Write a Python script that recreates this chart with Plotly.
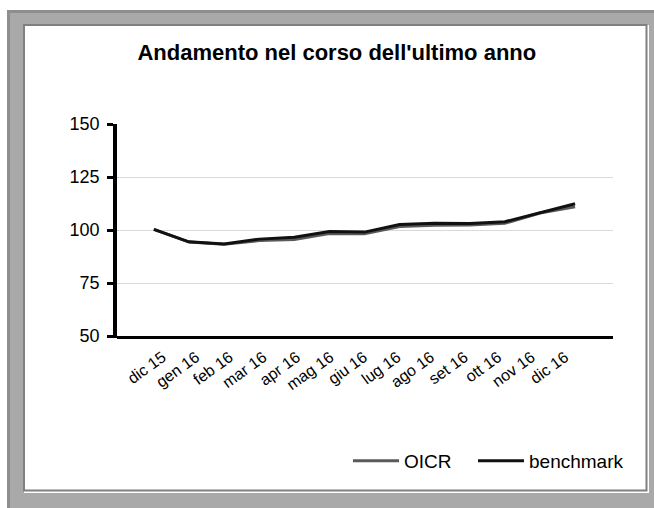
import plotly.graph_objects as go

# monthly labels and index values (base 100 = dic 15)
months = ["dic 15", "gen 16", "feb 16", "mar 16", "apr 16", "mag 16", "giu 16",
          "lug 16", "ago 16", "set 16", "ott 16", "nov 16", "dic 16"]
oicr = [100.3, 94.3, 93.3, 95.0, 95.5, 98.3, 98.2, 101.6, 102.2, 102.3, 103.2, 108.0, 111.0]
benchmark = [100.3, 94.4, 93.4, 95.7, 96.6, 99.3, 99.0, 102.6, 103.2, 103.1, 103.9, 108.3, 112.4]
y_ticks = [50, 75, 100, 125, 150]

W, H = 654, 508
L, R, T, B = 117, 613, 124, 336  # plot area in pixels


def px(x):
    return (x - L) / (R - L)


def py(y):
    return (B - y) / (B - T)


fig = go.Figure()
fig.add_trace(go.Scatter(x=months, y=oicr, name="OICR", mode="lines",
                         line=dict(color="#5a5a5a", width=3), legend="legend"))
fig.add_trace(go.Scatter(x=months, y=benchmark, name="benchmark", mode="lines",
                         line=dict(color="#111111", width=3), legend="legend2"))
# invisible copy carrying the month labels (Excel spaces them a bit tighter)
fig.add_trace(go.Scatter(x=months, y=benchmark, xaxis="x2", mode="lines", opacity=0,
                         showlegend=False, hoverinfo="skip"))

shapes = [
    # grey outer frame
    dict(type="rect", xref="paper", yref="paper", x0=px(7), x1=px(W + 2), y0=py(10), y1=py(H + 2),
         fillcolor="#a9a9a9", line=dict(width=0), layer="below"),
    dict(type="rect", xref="paper", yref="paper", x0=px(7), x1=px(W + 2), y0=py(10), y1=py(13),
         fillcolor="#8e8e8e", line=dict(width=0), layer="below"),
    dict(type="rect", xref="paper", yref="paper", x0=px(7), x1=px(10), y0=py(10), y1=py(H + 2),
         fillcolor="#8e8e8e", line=dict(width=0), layer="below"),
    # white highlight + inner panel
    dict(type="rect", xref="paper", yref="paper", x0=px(24), x1=px(649), y0=py(25), y1=py(493),
         fillcolor="white", line=dict(width=0), layer="below"),
    dict(type="rect", xref="paper", yref="paper", x0=px(24), x1=px(646.5), y0=py(25), y1=py(490.5),
         fillcolor="white", line=dict(color="#808080", width=2), layer="below"),
    # second thin line under the x axis
    dict(type="line", xref="paper", yref="paper", x0=px(L), x1=px(R), y0=py(B + 2.5), y1=py(B + 2.5),
         line=dict(color="black", width=1)),
]

leg = dict(orientation="h", xanchor="left", y=py(461), yanchor="middle",
           bgcolor="rgba(0,0,0,0)", font=dict(size=19), itemwidth=46)

fig.update_layout(
    width=W, height=H,
    margin=dict(l=L, r=W - R, t=T, b=H - B),
    paper_bgcolor="white", plot_bgcolor="white",
    font=dict(family="Liberation Sans, Arial, sans-serif", size=18, color="black"),
    title=dict(text="<b>Andamento nel corso dell'ultimo anno</b>", x=0.515, xanchor="center",
               y=1 - 52 / H, yanchor="middle", yref="container",
               font=dict(size=22, color="black")),
    showlegend=True,
    legend=dict(leg, x=px(348)),
    legend2=dict(leg, x=px(473)),
    shapes=shapes,
    xaxis=dict(type="category", range=[-1.05, 13.08], showgrid=False, showline=True,
               linecolor="black", linewidth=2, ticks="", showticklabels=False,
               fixedrange=True),
    xaxis2=dict(type="category", overlaying="x", anchor="y", side="bottom",
                range=[-1.357, 13.43], showgrid=False, showline=False, ticks="",
                tickangle=-36, ticklabelstandoff=8, tickfont=dict(size=16),
                fixedrange=True),
    yaxis=dict(range=[50, 150], tickvals=y_ticks, showgrid=True, gridcolor="#d9d9d9",
               gridwidth=1, showline=True, linecolor="black", linewidth=3.5,
               ticks="outside", ticklen=6, tickwidth=2.5, tickcolor="black",
               ticklabelstandoff=4,
               tickfont=dict(size=18), zeroline=False, fixedrange=True),
)

fig.write_html("out.html", config={"displayModeBar": False},
               post_script="document.body.style.margin='0';")
